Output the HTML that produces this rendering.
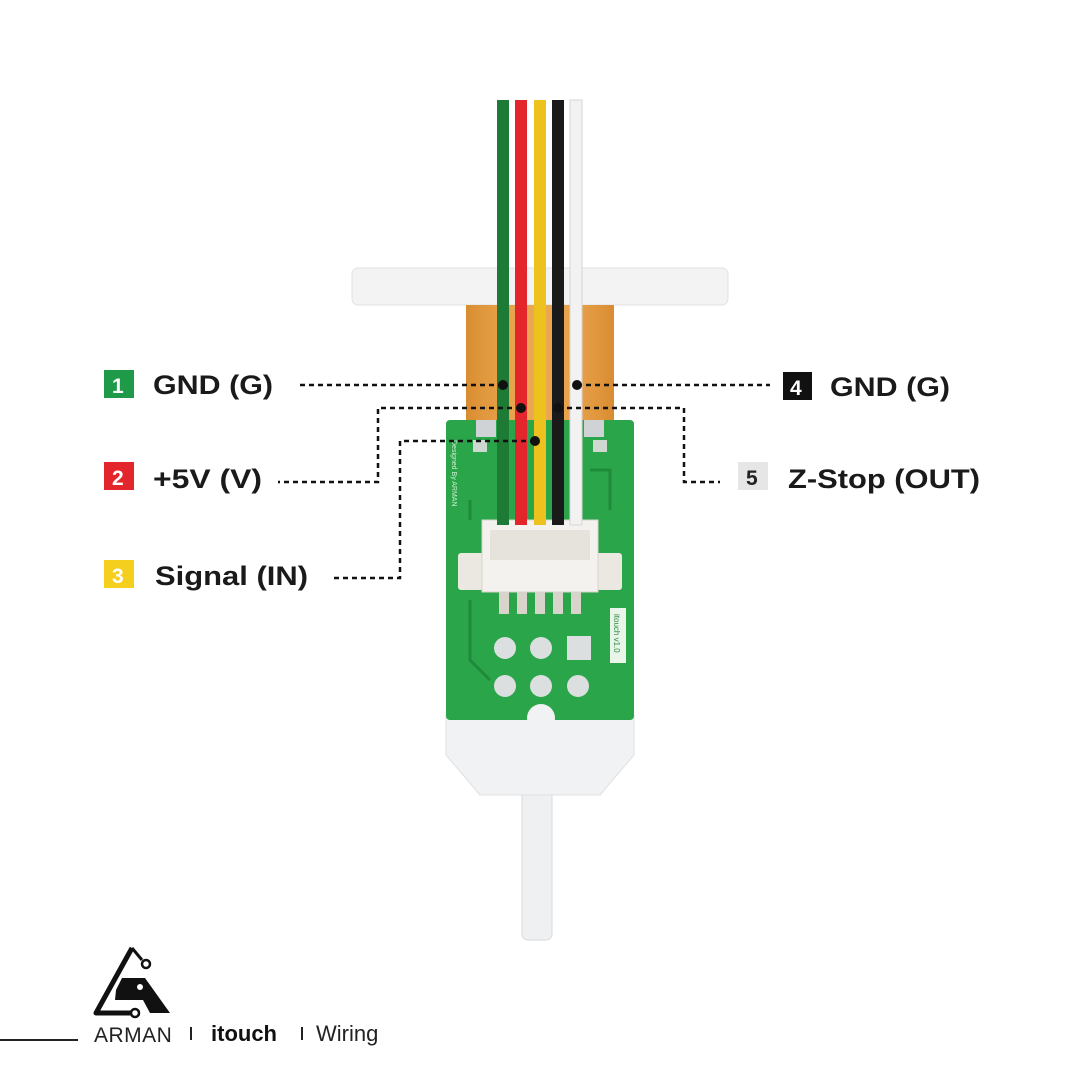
<!DOCTYPE html>
<html><head><style>
body{margin:0;background:#fff}
svg{display:block}
text{font-family:"Liberation Sans",sans-serif}
</style></head><body>
<svg width="1080" height="1080" viewBox="0 0 1080 1080">
<rect width="1080" height="1080" fill="#fff"/>
<defs><linearGradient id="og" x1="0" x2="1"><stop offset="0" stop-color="#d98c30"/><stop offset=".5" stop-color="#f0b261" stop-opacity=".3"/><stop offset="1" stop-color="#d98c30"/></linearGradient></defs>
<rect x="522" y="790" width="30" height="150" rx="6" fill="#eef0f2" stroke="#d8dadc"/>
<path d="M446 715 H634 V755 L600 795 H480 L446 755 Z" fill="#f1f2f3" stroke="#e0e0e0"/>
<rect x="352" y="268" width="376" height="37" rx="6" fill="#f3f3f3" stroke="#e2e2e2"/>
<rect x="466" y="305" width="148" height="120" fill="#e9a24a"/>
<rect x="466" y="305" width="148" height="120" fill="url(#og)"/>
<rect x="446" y="420" width="188" height="300" rx="4" fill="#2aa54a"/>
<rect x="476" y="420" width="20" height="17" fill="#cfd3d6"/>
<rect x="584" y="420" width="20" height="17" fill="#cfd3d6"/>
<rect x="593" y="440" width="14" height="12" fill="#cfd8d0"/>
<rect x="473" y="440" width="14" height="12" fill="#cfd8d0"/>
<path d="M590 470 H610 V510 M470 500 V520 M470 600 V660 L490 680" stroke="#1f8a3a" stroke-width="3" fill="none"/>
<circle cx="541" cy="718" r="14" fill="#f1f2f3"/>
<g fill="#dcdfe0"><circle cx="505" cy="648" r="11"/><circle cx="541" cy="648" r="11"/><circle cx="505" cy="686" r="11"/><circle cx="541" cy="686" r="11"/><circle cx="578" cy="686" r="11"/><rect x="567" y="636" width="24" height="24"/></g>
<rect x="610" y="608" width="16" height="55" fill="#e8f5e8"/>
<text x="614" y="614" font-size="8" fill="#2a8a40" transform="rotate(90 614 614)">itouch v1.0</text>
<text x="452" y="440" font-size="7" fill="#d0f0d0" transform="rotate(90 452 440)">Designed By ARMAN</text>
<rect x="458" y="553" width="164" height="37" rx="3" fill="#ebe8e2"/>
<rect x="482" y="520" width="116" height="72" fill="#f4f2ee" stroke="#d8d4cc"/>
<rect x="490" y="530" width="100" height="30" fill="#e6e3dc"/>
<g fill="#d8d4cc"><rect x="499" y="592" width="10" height="22"/><rect x="517" y="592" width="10" height="22"/><rect x="535" y="592" width="10" height="22"/><rect x="553" y="592" width="10" height="22"/><rect x="571" y="592" width="10" height="22"/></g>
<rect x="497" y="100" width="12" height="425" fill="#1e7b36"/>
<rect x="515" y="100" width="12" height="425" fill="#e3262b"/>
<rect x="534" y="100" width="12" height="425" fill="#eec21e"/>
<rect x="552" y="100" width="12" height="425" fill="#1a1a1a"/>
<rect x="570" y="100" width="12" height="425" fill="#f2f2f2" stroke="#d6d6d6"/>
<g stroke="#111" stroke-width="2.5" stroke-dasharray="5 4" fill="none">
<path d="M300 385 H503"/>
<path d="M577 385 H770"/>
<path d="M521 408 H378 V482 H278"/>
<path d="M558 408 H684 V482 H720"/>
<path d="M535 441 H400 V578 H330"/>
</g>
<g fill="#111"><circle cx="503" cy="385" r="5"/><circle cx="577" cy="385" r="5"/><circle cx="521" cy="408" r="5"/><circle cx="558" cy="408" r="5"/><circle cx="535" cy="441" r="5"/></g>
<g font-weight="bold" font-size="27" fill="#1a1a1a">
<rect x="104" y="370" width="30" height="28" fill="#1f9a48"/><text x="112" y="393" fill="#fff" font-size="21">1</text>
<text x="153" y="394" textLength="120" lengthAdjust="spacingAndGlyphs">GND (G)</text>
<rect x="104" y="462" width="30" height="28" fill="#e3262b"/><text x="112" y="485" fill="#fff" font-size="21">2</text>
<text x="153" y="488" textLength="109" lengthAdjust="spacingAndGlyphs">+5V (V)</text>
<rect x="104" y="560" width="30" height="28" fill="#f5cf1e"/><text x="112" y="583" fill="#fff" font-size="21">3</text>
<text x="155" y="585" textLength="153" lengthAdjust="spacingAndGlyphs">Signal (IN)</text>
<rect x="783" y="372" width="29" height="28" fill="#111"/><text x="790" y="395" fill="#fff" font-size="21">4</text>
<text x="830" y="396" textLength="120" lengthAdjust="spacingAndGlyphs">GND (G)</text>
<rect x="738" y="462" width="30" height="28" fill="#e6e6e6"/><text x="746" y="485" fill="#222" font-size="21">5</text>
<text x="788" y="488" textLength="192" lengthAdjust="spacingAndGlyphs">Z-Stop (OUT)</text>
</g>
<path d="M132 948 L96 1013 H140" stroke="#111" stroke-width="5" fill="none" stroke-linejoin="round"/>
<path d="M132 948 L142 960" stroke="#111" stroke-width="3"/>
<circle cx="146" cy="964" r="4" fill="none" stroke="#111" stroke-width="2.5"/>
<path d="M116 990 L122 978 H145 L170 1013 H150 L143 1000 H115 Z" fill="#111"/>
<circle cx="140" cy="987" r="3" fill="#fff"/>
<circle cx="135" cy="1013" r="4" fill="#fff" stroke="#111" stroke-width="2.5"/>
<rect x="0" y="1039" width="78" height="2" fill="#222"/>
<text x="94" y="1042" font-size="21" fill="#222" letter-spacing="0.5">ARMAN</text>
<rect x="190" y="1027" width="2" height="13" fill="#222"/>
<text x="211" y="1041" font-size="22" font-weight="bold" fill="#111">itouch</text>
<rect x="301" y="1027" width="2" height="13" fill="#222"/>
<text x="316" y="1041" font-size="22" fill="#222">Wiring</text>
</svg>
</body></html>
